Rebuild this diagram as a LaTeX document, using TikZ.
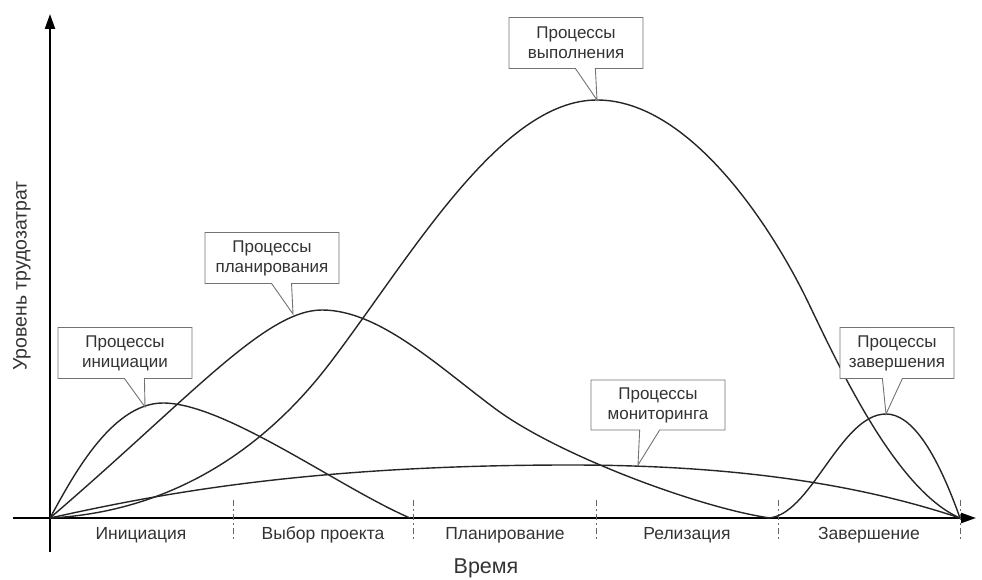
\documentclass[tikz,border=0pt]{standalone}
\usepackage{fontspec}
\setmainfont{Liberation Sans}
\usetikzlibrary{shapes.callouts,arrows.meta}

\tikzset{
  procbox/.style={rectangle callout, draw=black!55, line width=0.9pt, fill=white,
    align=center, text=black!80, font=\fontsize{17}{20}\selectfont,
    minimum width=134pt, minimum height=51pt, inner sep=2pt,
    callout pointer width=20pt},
  curve/.style={line width=1.4pt, black!85},
  phase/.style={text=black!80, font=\fontsize{17.5}{20}\selectfont},
  axis/.style={line width=2.2pt, -{Triangle[length=15pt,width=10pt]}},
}

\begin{document}
\begin{tikzpicture}[x=1pt,y=1pt]
  \useasboundingbox (-50,-61) rectangle (932,518);

  %% Axes
  \coordinate (O) at (0,0);
  \coordinate (Ybot) at (0,-34);
  \coordinate (Ytop) at (0,504);
  \coordinate (Xleft) at (-37,0);
  \coordinate (Xright) at (926,0);
  \draw[axis] (Ybot) -- (Ytop);
  \draw[axis] (Xleft) -- (Xright);
  \node[rotate=90, text=black!80, font=\fontsize{19.5}{22}\selectfont] (ylab) at (-28,242) {Уровень трудозатрат};
  \node[text=black!80, font=\fontsize{21.5}{24}\selectfont] (xlab) at (436,-50) {Время};

  %% Phase borders and phase names
  \foreach \x in {183,363,546,728,910}
  {
    \draw[black!60, line width=0.9pt, dash pattern=on 6pt off 3pt on 2pt off 3pt] (\x,18) -- (\x,-22);
  }
  \foreach \x/\name/\txt in {91/ph1/Инициация, 273/ph2/Выбор проекта, 455/ph3/Планирование,
                             637/ph4/Релизация, 819/ph5/Завершение}
  {
    \node[phase] (\name) at (\x,-17) {\txt};
  }

  %% Process curves
  % initiation
  \draw[curve] (O) .. controls (20,36) and (60,115) .. (113,115)
                   .. controls (175,115) and (290,30) .. (360,0);
  % planning
  \draw[curve] (O) .. controls (140,120) and (215,208) .. (272,208)
                   .. controls (330,208) and (390,150) .. (447,108)
                   .. controls (510,62) and (650,10) .. (720,0);
  % execution
  \draw[curve] (O) .. controls (100,5) and (200,50) .. (280,155)
                   .. controls (360,260) and (450,418) .. (547,418)
                   .. controls (640,418) and (722,290) .. (757,218)
                   .. controls (787,156) and (845,28) .. (910,0);
  % monitoring
  \draw[curve] (O) .. controls (100,22) and (250,53) .. (520,53)
                   .. controls (700,53) and (820,30) .. (910,0);
  % closing
  \draw[curve] (717,0) .. controls (760,0) and (790,104) .. (836,104)
                   .. controls (860.7,104) and (885.3,69.3) .. (910,0);

  %% Pointer targets on the curves
  \coordinate (pInit) at (95,111);
  \coordinate (pPlan) at (243,204);
  \coordinate (pExec) at (547,418);
  \coordinate (pMon) at (588,53);
  \coordinate (pEnd) at (836,104);

  %% Callouts
  \node[procbox, callout absolute pointer={(pInit)}] (init) at (75,165) {Процессы\\инициации};
  \node[procbox, callout absolute pointer={(pPlan)}] (plan) at (222,260) {Процессы\\планирования};
  \node[procbox, callout absolute pointer={(pExec)}] (exec) at (526,475) {Процессы\\выполнения};
  \node[procbox, minimum height=50pt, callout absolute pointer={(pMon)}] (mon) at (608,113) {Процессы\\мониторинга};
  \node[procbox, minimum width=114pt, callout absolute pointer={(pEnd)}] (fin) at (847,165) {Процессы\\завершения};

\end{tikzpicture}
\end{document}
